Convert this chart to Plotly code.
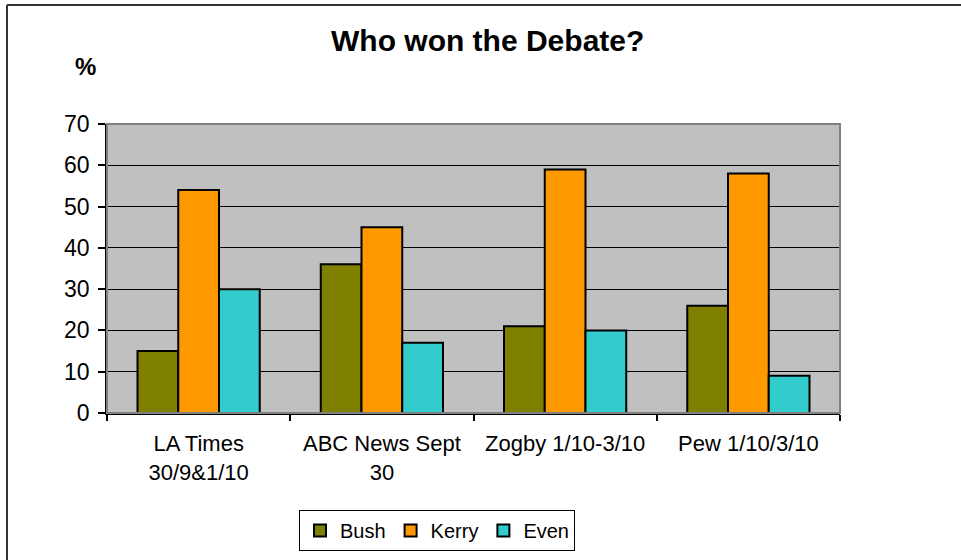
import plotly.graph_objects as go

categories = ["LA Times<br>30/9&1/10", "ABC News Sept<br>30", "Zogby 1/10-3/10", "Pew 1/10/3/10"]
bush = [15, 36, 21, 26]
kerry = [54, 45, 59, 58]
even = [30, 17, 20, 9]
y_ticks = [0, 10, 20, 30, 40, 50, 60, 70]

W, H = 961, 560
L, R, T, B = 107, 121, 124, 147
pw, ph = W - L - R, H - T - B

def px(x):
    return (x - L) / pw

def py(y):
    return (H - B - y) / ph

fig = go.Figure()
for name, vals, col in [("Bush", bush, "#808000"), ("Kerry", kerry, "#FF9900"), ("Even", even, "#33CCCC")]:
    fig.add_trace(go.Bar(x=categories, y=vals, name=name,
                         marker=dict(color=col, line=dict(color="black", width=2))))

font = "Liberation Sans, Arial, sans-serif"
fig.update_layout(
    width=W, height=H,
    margin=dict(l=L, r=R, t=T, b=B, autoexpand=False),
    paper_bgcolor="white", plot_bgcolor="#C0C0C0",
    barmode="group", bargap=0.333, bargroupgap=0,
    font=dict(family=font, color="black"),
    showlegend=True,
    legend=dict(orientation="h", xref="container", yref="container",
                x=437 / W, xanchor="center", y=(H - 510) / H, yanchor="top",
                bgcolor="white", bordercolor="black", borderwidth=1,
                font=dict(size=20, family=font), itemwidth=30,
                traceorder="normal"),
    xaxis=dict(type="category", tickson="boundaries", ticks="outside", ticklen=6,
               tickcolor="black", tickwidth=1.5, showline=True, linecolor="black", linewidth=1.5,
               tickfont=dict(size=22, family=font), showgrid=False, ticklabelstandoff=10,
               range=[-0.5, 3.5], automargin=False),
    yaxis=dict(range=[0, 70], tickvals=y_ticks, ticks="outside", ticklen=7,
               tickcolor="black", tickwidth=1.5, showline=True, linecolor="black", linewidth=1.5,
               showgrid=True, gridcolor="black", gridwidth=1, zeroline=False,
               tickfont=dict(size=23, family=font), ticklabelstandoff=4, automargin=False),
    annotations=[
        dict(text="<b>Who won the Debate?</b>", xref="paper", yref="paper", x=px(487), y=py(40),
             xanchor="center", yanchor="middle", showarrow=False, font=dict(size=30, family=font)),
        dict(text="<b>%</b>", xref="paper", yref="paper", x=px(85), y=py(66),
             xanchor="center", yanchor="middle", showarrow=False, font=dict(size=24, family=font)),
    ],
    shapes=[
        dict(type="rect", xref="paper", yref="paper", x0=0, x1=1, y0=0, y1=1,
             line=dict(color="#808080", width=2), layer="above"),
        dict(type="line", xref="paper", yref="paper", x0=px(7), x1=px(7), y0=py(5), y1=py(600),
             line=dict(color="#333333", width=2)),
        dict(type="line", xref="paper", yref="paper", x0=px(7), x1=px(1000), y0=py(5), y1=py(5),
             line=dict(color="#333333", width=2)),
    ],
)
fig.write_html("out.html", config={"displayModeBar": False},
               post_script="document.body.style.margin='0';document.body.style.overflow='hidden';")
